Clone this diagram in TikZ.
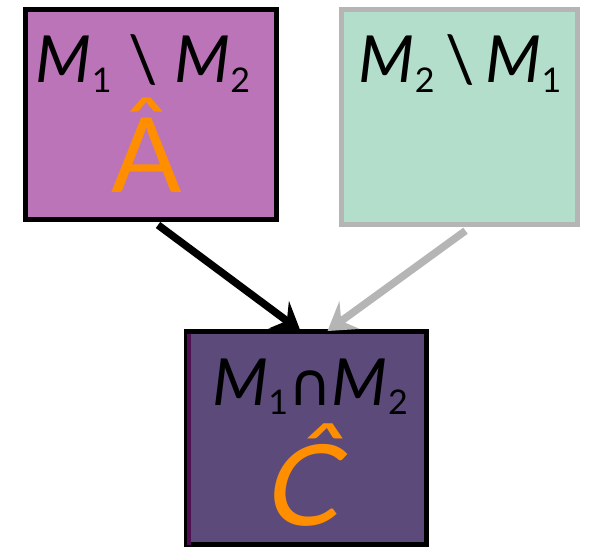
\documentclass[tikz,border=0pt]{standalone}
\usepackage{fontspec}
\setmainfont{Lato}
\newfontfamily\symfont{DejaVu Sans}
\usetikzlibrary{arrows.meta}
\definecolor{pinkfill}{HTML}{BC74B8}
\definecolor{mintfill}{HTML}{B3DECB}
\definecolor{plumfill}{HTML}{5B4A7A}
\definecolor{hatorange}{HTML}{FF8E00}
\definecolor{bordergray}{HTML}{B5B5B5}
\newcommand{\Msb}[1]{\textit{M}\raisebox{-0.15em}{\fontsize{34}{34}\selectfont #1}}
\tikzset{
  box/.style={draw=black, line width=5pt, inner sep=0pt},
  lbl/.style={inner sep=0pt, anchor=base, font=\fontsize{65}{65}\selectfont},
  hat/.style={inner sep=0pt, anchor=base, text=hatorange},
  conn/.style={line width=7.5pt, -{Stealth[length=27pt,width=34pt,inset=10pt]}}
}
\begin{document}
\begin{tikzpicture}[x=1pt,y=-1pt]
\useasboundingbox (0,0) rectangle (594,548);
\node[box, fill=pinkfill, minimum width=251pt, minimum height=210pt] (L) at (151,114.5) {};
\node[box, draw=bordergray, line width=4.5pt, fill=mintfill, minimum width=236pt, minimum height=215pt] (R) at (459.5,117) {};
\node[box, fill=plumfill, minimum width=240pt, minimum height=213pt] (C) at (306.5,438) {};
\fill[fill={rgb,255:red,80;green,15;blue,80}] (186.5,333.5) rectangle (190.5,544.5);
\node[lbl] (Ltxt) at (143,83) {\Msb{1}\ \textbackslash\ \Msb{2}};
\node[lbl] (Rtxt) at (460,83) {\Msb{2}\,\textbackslash\,\Msb{1}};
\node[lbl] (Ctxt) at (310,405) {\Msb{1}{\symfont\fontsize{60}{60}\selectfont ∩}\Msb{2}};
\node[hat, font=\fontsize{104}{104}\selectfont] (Ahat) at (147,193) {Â};
\node[hat, font=\fontsize{112}{112}\selectfont, xslant=0.2, transform shape] (Chat) at (300,525) {Ĉ};
\draw[conn] ([xshift=7pt,yshift=-3pt]L.south) -- ([xshift=-6pt,yshift=-2pt]C.north);
\draw[conn, draw=bordergray] ([xshift=6pt,yshift=-4pt]R.south) -- ([xshift=21pt,yshift=-2pt]C.north);
\end{tikzpicture}
\end{document}
